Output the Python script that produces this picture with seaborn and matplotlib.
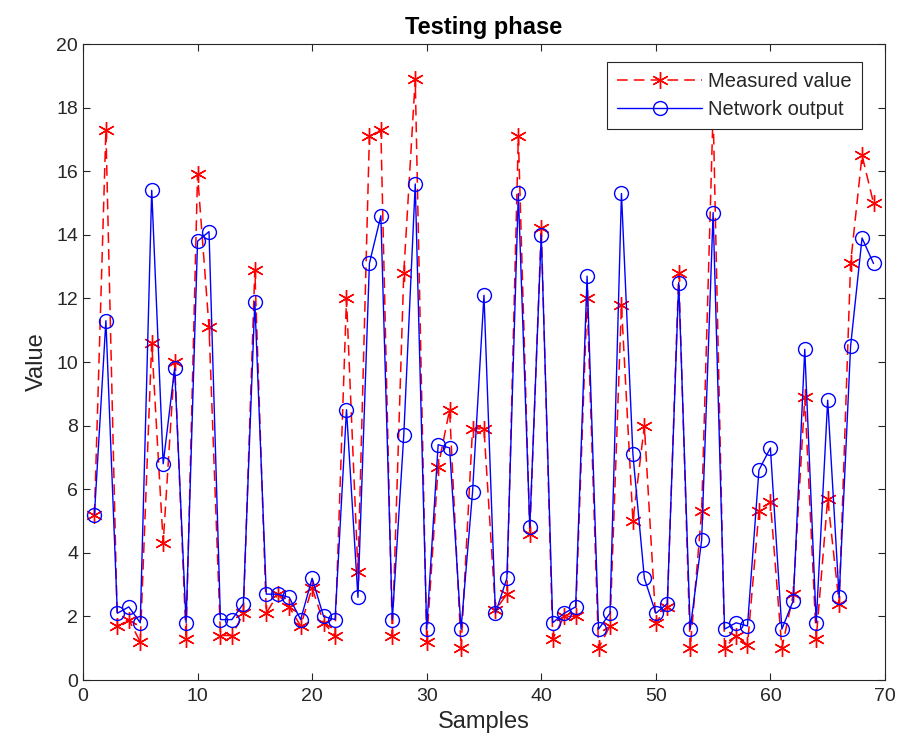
import numpy as np
import pandas as pd
import seaborn as sns
import matplotlib.pyplot as plt

# Data
samples = list(range(1, 70))
measured = [5.2, 17.3, 1.7, 1.9, 1.2, 10.6, 4.3, 10.0, 1.3, 15.9,
            11.1, 1.4, 1.4, 2.1, 12.9, 2.1, 2.7, 2.3, 1.7, 2.9,
            1.8, 1.4, 12.0, 3.4, 17.1, 17.3, 1.4, 12.8, 18.9, 1.2,
            6.7, 8.5, 1.0, 7.9, 7.9, 2.2, 2.7, 17.1, 4.6, 14.2,
            1.3, 2.0, 2.0, 12.0, 1.0, 1.7, 11.8, 5.0, 8.0, 1.8,
            2.3, 12.8, 1.0, 5.3, 17.9, 1.0, 1.4, 1.1, 5.3, 5.6,
            1.0, 2.7, 8.9, 1.3, 5.7, 2.4, 13.1, 16.5, 15.0]
network = [5.2, 11.3, 2.1, 2.3, 1.8, 15.4, 6.8, 9.8, 1.8, 13.8,
           14.1, 1.9, 1.9, 2.4, 11.9, 2.7, 2.7, 2.6, 1.9, 3.2,
           2.0, 1.9, 8.5, 2.6, 13.1, 14.6, 1.9, 7.7, 15.6, 1.6,
           7.4, 7.3, 1.6, 5.9, 12.1, 2.1, 3.2, 15.3, 4.8, 14.0,
           1.8, 2.1, 2.3, 12.7, 1.6, 2.1, 15.3, 7.1, 3.2, 2.1,
           2.4, 12.5, 1.6, 4.4, 14.7, 1.6, 1.8, 1.7, 6.6, 7.3,
           1.6, 2.5, 10.4, 1.8, 8.8, 2.6, 10.5, 13.9, 13.1]

df = pd.DataFrame({'Samples': samples, 'Measured': measured, 'Network': network})

sns.set_style('white')
plt.rcParams['font.family'] = ['Liberation Sans', 'DejaVu Sans']

fig = plt.figure(figsize=(9.01, 7.55), dpi=100)
ax = fig.add_axes([0.0921, 0.0993, 0.8901, 0.8424])

# MATLAB-like asterisk marker: six-armed line star
sns.lineplot(data=df, x='Samples', y='Measured', ax=ax, color='red',
             linestyle=(0, (7, 4)), linewidth=1.1, marker=(6, 2, 0),
             markersize=12, markeredgewidth=1.0, markeredgecolor='red',
             label='Measured value')
sns.lineplot(data=df, x='Samples', y='Network', ax=ax, color='blue',
             linewidth=1.0, marker='o', markersize=10, markerfacecolor='none',
             markeredgecolor='blue', markeredgewidth=1.0, label='Network output')

ax.set_xlim(0, 70)
ax.set_ylim(0, 20)
ax.set_xticks(range(0, 71, 10))
ax.set_yticks(range(0, 21, 2))
ax.tick_params(direction='in', length=5, width=0.8, labelsize=14,
               colors='#262626', top=True, right=True, bottom=True, left=True,
               labeltop=False, labelright=False)
ax.tick_params(axis='x', pad=6)
for sp in ax.spines.values():
    sp.set_color('#262626')
    sp.set_linewidth(0.8)

ax.set_xlabel('Samples', fontsize=17, color='#262626', labelpad=4)
ax.set_ylabel('Value', fontsize=17, color='#262626', labelpad=6)
ax.set_title('Testing phase', fontsize=17, fontweight='bold', color='black', pad=7)

leg = ax.legend(loc='upper right', fontsize=14.5, frameon=True, fancybox=False,
                edgecolor='#262626', framealpha=1, borderpad=0.5,
                labelspacing=0.45, handlelength=4.2, handletextpad=0.3,
                borderaxespad=0, bbox_to_anchor=(0.971, 0.972))
leg.get_frame().set_linewidth(0.8)

fig.savefig('out.png', dpi=100)
